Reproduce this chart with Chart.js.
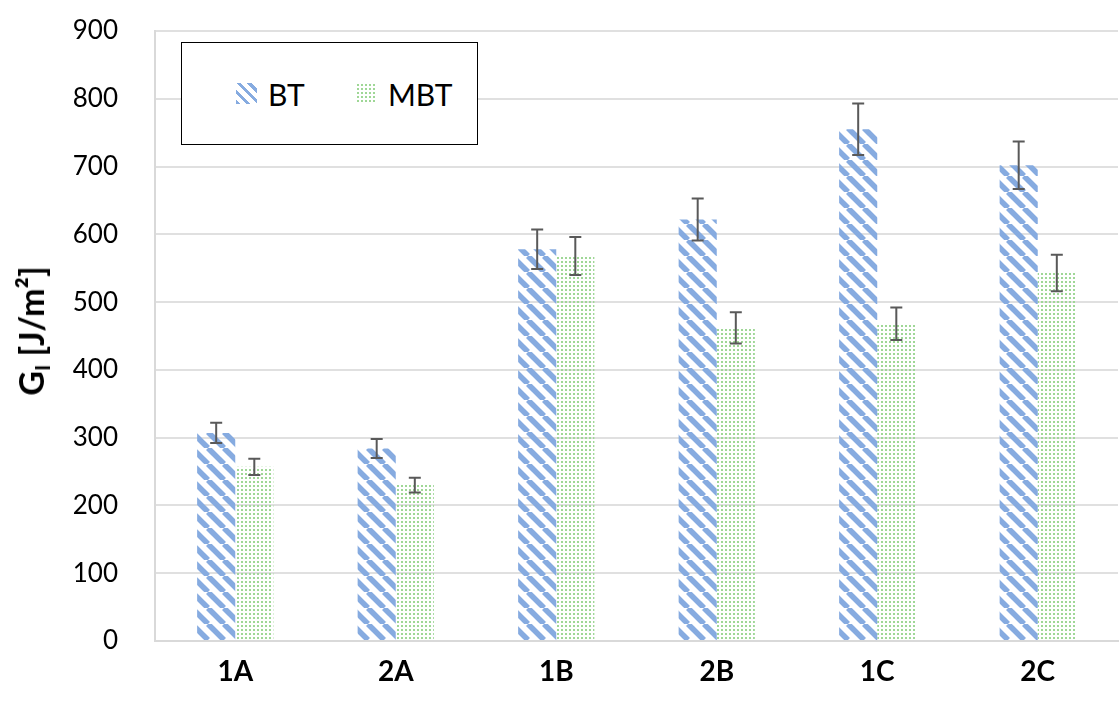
<!DOCTYPE html>
<html lang="en">
<head>
<meta charset="UTF-8">
<title>G_I per specimen</title>
<script src="https://cdn.jsdelivr.net/npm/chart.js"></script>
<style>
  body { margin: 0; background: #fff; font-family: Lato, "Open Sans", sans-serif; }
  .wrap { position: relative; width: 1119px; height: 705px; }
  #chart { position: absolute; left: 0; top: 0; }
  .ytitle {
    position: absolute; left: 32px; top: 331px;
    transform: translate(-50%, -50%) rotate(-90deg);
    font-weight: bold; font-size: 34px; white-space: nowrap; color: #000;
  }
  .ytitle sub { font-size: 21px; vertical-align: -6px; }
  .legend {
    position: absolute; left: 181px; top: 42px; width: 295px; height: 101px;
    border: 1.5px solid #000; background: #fff;
  }
  .item { position: absolute; top: 0; height: 100%; display: flex; align-items: center; font-size: 30px; color: #000; }
  .sw { width: 21px; height: 21px; margin-right: 11px; }
  .sw.bt { background: repeating-linear-gradient(45deg, #86abe0 0 3px, #fff 3px 7.5px); }
  .sw.mbt { background-image: radial-gradient(#9fd796 1px, transparent 1.3px); background-size: 4px 4px; }
</style>
</head>
<body>
<div class="wrap">
  <canvas id="chart" width="1119" height="705"></canvas>
  <div class="ytitle">G<sub>I</sub> [J/m²]</div>
  <div class="legend">
    <div class="item" style="left:54px"><div class="sw bt"></div>BT</div>
    <div class="item" style="left:174px"><div class="sw mbt"></div>MBT</div>
  </div>
</div>
<script>
const categories = ['1A', '2A', '1B', '2B', '1C', '2C'];
const btValues = [307, 284, 578, 622, 755, 702];
const btErrors = [15, 14, 29, 31, 38, 35];
const mbtValues = [257, 230, 568, 462, 468, 543];
const mbtErrors = [12, 11, 28, 23, 24, 27];
const yMin = 0, yMax = 900, yStep = 100;

const canvas = document.getElementById('chart');
const ctx = canvas.getContext('2d');

// diagonal "\" stripes for BT
function stripePattern() {
  const c = document.createElement('canvas');
  c.width = 16; c.height = 16;
  const g = c.getContext('2d');
  g.strokeStyle = '#86abe0';
  g.lineWidth = 5.5;
  for (const o of [-16, 0, 16]) {
    g.beginPath(); g.moveTo(o, 0); g.lineTo(o + 16, 16); g.stroke();
  }
  return ctx.createPattern(c, 'repeat');
}

// small dots for MBT
function dotPattern() {
  const c = document.createElement('canvas');
  c.width = 4; c.height = 4;
  const g = c.getContext('2d');
  g.fillStyle = '#9fd796';
  g.fillRect(1, 1, 2, 2);
  return ctx.createPattern(c, 'repeat');
}

const errorBars = {
  id: 'errorBars',
  afterDatasetsDraw(chart) {
    const c = chart.ctx;
    const y = chart.scales.y;
    c.save();
    c.strokeStyle = '#595959';
    c.lineWidth = 2;
    chart.data.datasets.forEach((ds, i) => {
      chart.getDatasetMeta(i).data.forEach((bar, j) => {
        const top = y.getPixelForValue(ds.data[j] + ds.errors[j]);
        const bot = y.getPixelForValue(ds.data[j] - ds.errors[j]);
        c.beginPath();
        c.moveTo(bar.x, top); c.lineTo(bar.x, bot);
        c.moveTo(bar.x - 6, top); c.lineTo(bar.x + 6, top);
        c.moveTo(bar.x - 6, bot); c.lineTo(bar.x + 6, bot);
        c.stroke();
      });
    });
    c.restore();
  }
};

new Chart(ctx, {
  type: 'bar',
  data: {
    labels: categories,
    datasets: [
      { label: 'BT', data: btValues, errors: btErrors, backgroundColor: stripePattern() },
      { label: 'MBT', data: mbtValues, errors: mbtErrors, backgroundColor: dotPattern() }
    ]
  },
  options: {
    responsive: false,
    animation: false,
    layout: { padding: { top: 31, right: 1, left: 0, bottom: 0 } },
    datasets: { bar: { categoryPercentage: 0.475, barPercentage: 1 } },
    plugins: { legend: { display: false }, tooltip: { enabled: false } },
    scales: {
      x: {
        grid: { display: false },
        border: { display: true, color: '#d9d9d9', width: 2 },
        ticks: { color: '#000', padding: 6, font: { family: 'Lato', size: 28, weight: 'bold' } },
        afterFit(s) { s.height = 64; }
      },
      y: {
        min: yMin, max: yMax,
        grid: { color: '#e0e0e0', lineWidth: 2, tickLength: 30, tickColor: 'transparent' },
        border: { display: true, color: '#d9d9d9', width: 2 },
        ticks: { stepSize: yStep, color: '#000', padding: 7, font: { family: 'Lato', size: 26 } },
        afterFit(s) { s.width = 155; }
      }
    }
  },
  plugins: [errorBars]
});
</script>
</body>
</html>
